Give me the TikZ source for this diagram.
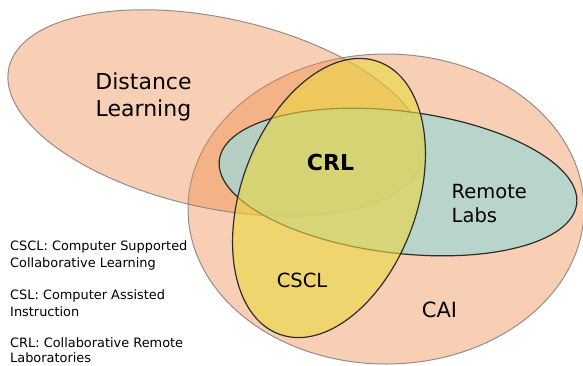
\documentclass[tikz,border=0pt]{standalone}
\usepackage{fontspec}
\setmainfont{DejaVu Sans}
\definecolor{peach}{RGB}{238,136,68}
\definecolor{tealfill}{RGB}{168,213,209}
\definecolor{yellowfill}{RGB}{235,215,63}
\definecolor{lightline}{RGB}{120,120,120}
\definecolor{darkline}{RGB}{45,45,40}
\tikzset{
  softset/.style={fill=peach, fill opacity=0.4, draw=lightline, draw opacity=0.8, line width=1pt},
  tealset/.style={fill=tealfill, fill opacity=0.8, draw=darkline, line width=1.2pt},
  yellowset/.style={fill=yellowfill, fill opacity=0.6, draw=darkline, line width=1.2pt},
  biglabel/.style={inner sep=0pt, font=\fontsize{22}{26}\selectfont},
  midlabel/.style={inner sep=0pt, font=\fontsize{19.5}{23}\selectfont},
  legend/.style={inner sep=0pt, anchor=base west, font=\fontsize{12.9}{16}\selectfont}
}
\begin{document}
\begin{tikzpicture}[x=1pt,y=1pt]
\useasboundingbox (0,0) rectangle (583,-365);
\begin{scope}
\clip (0,0) rectangle (583,-365);
% CAI
\path[softset] (386,-209) ellipse [x radius=198, y radius=155];
% Distance Learning
\path[softset, rotate around={-12.3:(216,-113)}] (216,-113) ellipse [x radius=212, y radius=95];
% Remote Labs
\path[tealset, rotate around={-7:(398,-182)}] (398,-182) ellipse [x radius=180, y radius=71];
% CSCL
\path[yellowset, rotate around={-20:(329,-198)}] (329,-198) ellipse [x radius=88, y radius=145];
\end{scope}
% labels
\node[biglabel, anchor=base] (dl1) at (143.5,-89) {Distance};
\node[biglabel, anchor=base] (dl2) at (143.5,-116) {Learning};
\node[biglabel, anchor=base, font=\fontsize{22}{26}\selectfont\bfseries] (crl) at (330.5,-170) {CRL};
\node[midlabel, anchor=base west] (rl1) at (451.5,-198) {Remote};
\node[midlabel, anchor=base west] (rl2) at (451.5,-222) {Labs};
\node[midlabel, anchor=base] (cscl) at (302,-287) {CSCL};
\node[biglabel, anchor=base, font=\fontsize{21}{25}\selectfont] (cai) at (439.5,-317) {CAI};
% legend
\node[legend] (lg1) at (10,-250.5) {CSCL: Computer Supported};
\node[legend] (lg2) at (10,-267) {Collaborative Learning};
\node[legend] (lg3) at (10,-299.5) {CSL: Computer Assisted};
\node[legend] (lg4) at (10,-316) {Instruction};
\node[legend] (lg5) at (10,-347) {CRL: Collaborative Remote};
\node[legend] (lg6) at (10,-362.5) {Laboratories};
\end{tikzpicture}
\end{document}
